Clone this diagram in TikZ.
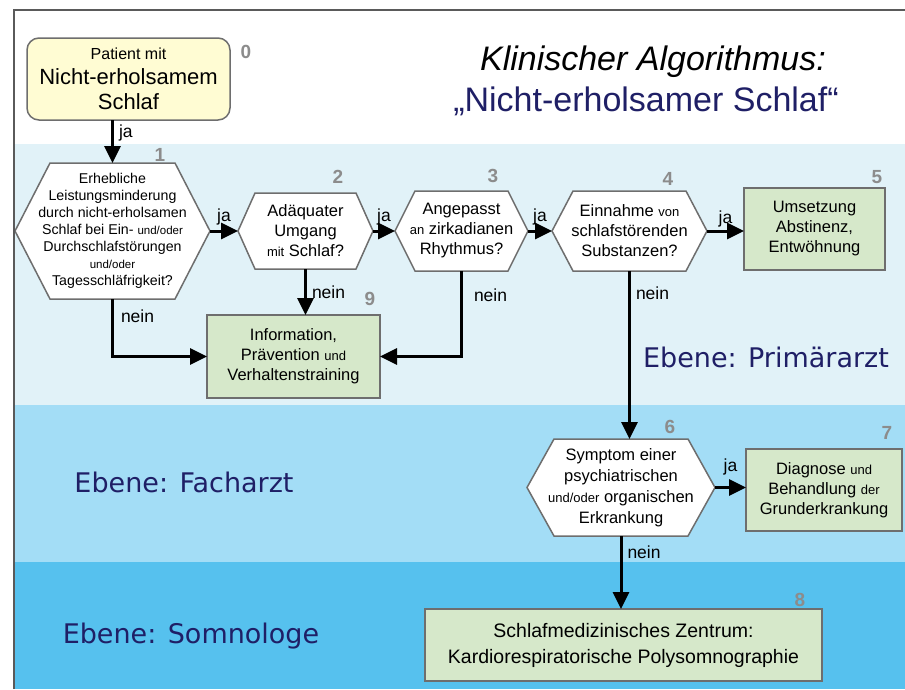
\documentclass[tikz,border=0pt]{standalone}
\usepackage{fontspec}
\setmainfont{Liberation Sans}
\newfontfamily\ebenefont{DejaVu Sans}
\usepackage{tikz}
\usetikzlibrary{arrows.meta,calc}

\pgfdeclarelayer{bands}
\pgfdeclarelayer{shapes}
\pgfsetlayers{bands,shapes,main}

\definecolor{bandA}{HTML}{E1F2F8}
\definecolor{bandB}{HTML}{A3DDF6}
\definecolor{bandC}{HTML}{56C1EE}
\definecolor{boxgreen}{HTML}{D6E8CA}
\definecolor{boxyellow}{HTML}{FFFCD3}
\definecolor{navy}{HTML}{1F1F66}
\definecolor{numgray}{HTML}{8C8C8C}
\definecolor{edgegray}{HTML}{6E6E6E}
\definecolor{framegray}{HTML}{5A5A5A}

\tikzset{
  box/.style={draw=edgegray, line width=1.5pt, fill=boxgreen, inner sep=0pt, outer sep=0pt,
    align=center, font=\fontsize{16.5}{20}\selectfont},
  hexbox/.style={inner sep=0pt, outer sep=0pt, align=center, font=\fontsize{16.5}{20}\selectfont},
  hexline/.style={draw=edgegray, line width=1.5pt, fill=white},
  arr/.style={line width=3pt, -{Triangle[length=17pt,width=16pt]}},
  lbl/.style={font=\fontsize{17.5}{20}\selectfont, inner sep=1pt},
  num/.style={font=\fontsize{19}{20}\selectfont\bfseries, text=numgray},
  ebene/.style={font=\ebenefont\fontsize{27}{30}\selectfont, text=navy}
}

% smaller words inside a box
\newcommand{\kl}[1]{{\fontsize{13}{15}\selectfont #1}}
% hexagon drawn round a named node, #2 = inset of the top edge
\newcommand{\hexborder}[2]{%
  \begin{pgfonlayer}{shapes}
    \draw[hexline] (#1.west) -- ($(#1.north west)+(#2,0)$) -- ($(#1.north east)+(-#2,0)$)
      -- (#1.east) -- ($(#1.south east)+(-#2,0)$) -- ($(#1.south west)+(#2,0)$) -- cycle;
  \end{pgfonlayer}}

\begin{document}
\begin{tikzpicture}[x=1pt, y=-1pt]
    \useasboundingbox (0,0) rectangle (905,689);

    \begin{pgfonlayer}{bands}
        \fill[white] (0,0) rectangle (905,689);
        \fill[bandA] (14,144) rectangle (905,405);
        \fill[bandB] (14,405) rectangle (905,562);
        \fill[bandC] (14,562) rectangle (905,689);
    \end{pgfonlayer}
    \draw[line width=2pt, framegray] (14,689) -- (14,10) -- (905,10);

    \node[font=\fontsize{34}{36}\selectfont\itshape] (title) at (653,62) {Klinischer Algorithmus:};
    \node[font=\fontsize{34}{36}\selectfont, text=navy] (subtitle) at (646,101) {„Nicht-erholsamer Schlaf“};

    \node[draw=edgegray, line width=1.5pt, fill=boxyellow, rounded corners=12pt, minimum width=203pt,
      minimum height=82pt, inner sep=0pt, outer sep=0pt, align=center, font=\fontsize{22}{25}\selectfont]
      (n0) at (128.5,79) {{\fontsize{16}{18}\selectfont Patient mit}\\Nicht-erholsamem\\Schlaf};

    \node[hexbox, minimum width=195pt, minimum height=136pt, font=\fontsize{14.2}{17}\selectfont]
      (h1) at (112.5,231) {Erhebliche\\Leistungsminderung\\durch nicht-erholsamen\\
      Schlaf bei Ein- {\fontsize{11.5}{13}\selectfont und/oder}\\Durchschlafstörungen\\
      {\fontsize{11.5}{13}\selectfont und/oder}\\Tagesschläfrigkeit?};
    \hexborder{h1}{35}
    \node[hexbox, minimum width=135pt, minimum height=76pt] (h2) at (305.5,231)
      {Adäquater\\Umgang\\\kl{mit} Schlaf?};
    \hexborder{h2}{17}
    \node[hexbox, minimum width=133pt, minimum height=80pt] (h3) at (461.5,231)
      {Angepasst\\\kl{an} zirkadianen\\Rhythmus?};
    \hexborder{h3}{20}
    \node[hexbox, minimum width=155pt, minimum height=80pt] (h4) at (629.5,231)
      {Einnahme \kl{von}\\schlafstörenden\\Substanzen?};
    \hexborder{h4}{21}
    \node[box, minimum width=141pt, minimum height=82pt] (b5) at (814.5,229)
      {Umsetzung\\Abstinenz,\\Entwöhnung};
    \node[box, minimum width=173pt, minimum height=83pt] (b9) at (293.5,356.5)
      {Information,\\Prävention \kl{und}\\Verhaltenstraining};
    \node[hexbox, minimum width=188pt, minimum height=97pt, font=\fontsize{16.5}{21}\selectfont]
      (h6) at (621,487.5) {Symptom einer\\psychiatrischen\\\kl{und/oder} organischen\\Erkrankung};
    \hexborder{h6}{27}
    \node[box, minimum width=156pt, minimum height=82pt] (b7) at (824,490)
      {Diagnose \kl{und}\\Behandlung \kl{der}\\Grunderkrankung};
    \node[box, minimum width=397pt, minimum height=72pt, font=\fontsize{19.5}{26}\selectfont]
      (b8) at (623.5,645) {Schlafmedizinisches Zentrum:\\Kardiorespiratorische Polysomnographie};

    \node[num] (num0) at (246,52) {0};
    \node[num] (num1) at (160,155) {1};
    \node[num] (num2) at (338,177) {2};
    \node[num] (num3) at (493,176) {3};
    \node[num] (num4) at (668,179) {4};
    \node[num] (num5) at (877,177) {5};
    \node[num] (num9) at (370,299) {9};
    \node[num] (num6) at (670,427) {6};
    \node[num] (num7) at (887,433) {7};
    \node[num] (num8) at (800,600) {8};

    \node[ebene] (primaer) at (766,357) {Ebene: Primärarzt};
    \node[ebene] (fach) at (184,482) {Ebene: Facharzt};
    \node[ebene] (somno) at (191,636) {Ebene: Somnologe};

    \draw[arr] (h1.north |- n0.south) -- node[lbl, pos=0.3, right=4pt] (ja01) {ja} (h1.north);
    \draw[arr] (h1.east) -- node[lbl, above=3pt] (ja12) {ja} (h2.west);
    \draw[arr] (h2.east) -- node[lbl, above=3pt] (ja23) {ja} (h3.west);
    \draw[arr] (h3.east) -- node[lbl, above=3pt] (ja34) {ja} (h4.west);
    \draw[arr] (h4.east) -- node[lbl, above=1pt] (ja45) {ja} (h4.east -| b5.west);
    \draw[arr] (h1.south) |- node[lbl, pos=0.15, right=6pt] (nein19) {nein} (b9.west);
    \draw[arr] (h2.south) -- node[lbl, right=4pt] (nein29) {nein} (h2.south |- b9.north);
    \draw[arr] (h3.south) |- node[lbl, pos=0.14, right=10pt] (nein39) {nein} (b9.east);
    \draw[arr] (h4.south) -- node[lbl, pos=0.13, right=4pt] (nein46) {nein} (h4.south |- h6.north);
    \draw[arr] (h6.east) -- node[lbl, above=10pt] (ja67) {ja} (h6.east -| b7.west);
    \draw[arr] (h6.south) -- node[lbl, pos=0.22, right=4pt] (nein68) {nein} (h6.south |- b8.north);
\end{tikzpicture}
\end{document}
